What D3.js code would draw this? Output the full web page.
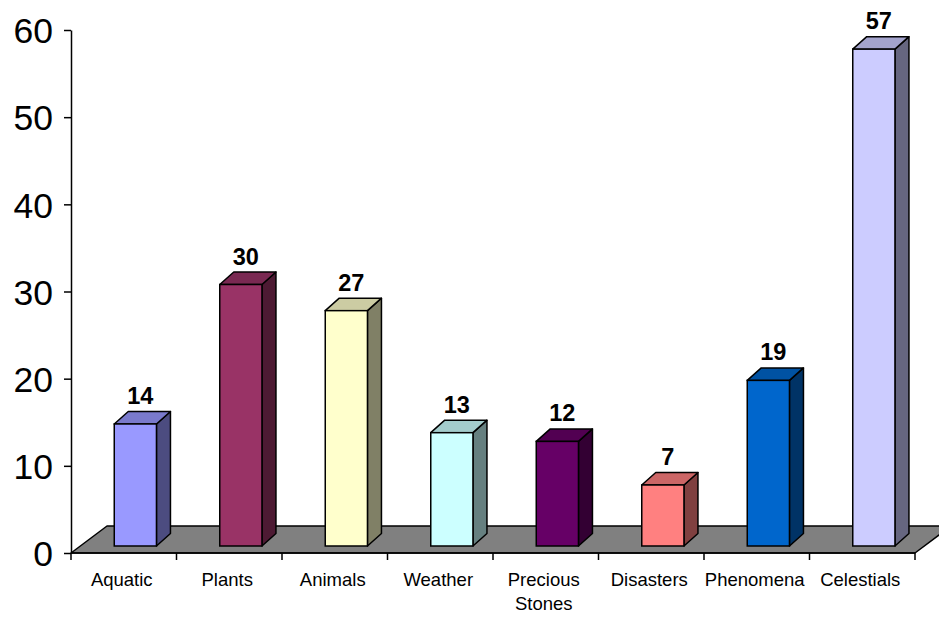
<!DOCTYPE html>
<html>
<head>
<meta charset="utf-8">
<script src="https://cdn.jsdelivr.net/npm/d3@7/dist/d3.min.js"></script>
<style>
  html, body { margin: 0; padding: 0; background: #fff; }
  svg { display: block; font-family: "Liberation Sans", Arial, sans-serif; }
</style>
</head>
<body>
<svg id="chart" width="939" height="617"></svg>
<script>
// Data
const categories = ["Aquatic", "Plants", "Animals", "Weather", "Precious Stones", "Disasters", "Phenomena", "Celestials"];
const counts = [14, 30, 27, 13, 12, 7, 19, 57];
const yTicks = [0, 10, 20, 30, 40, 50, 60];

// Face colours per bar: front, top, side
const palette = [
  ["#9999FF", "#7A7ACC", "#4C4C80"],
  ["#993366", "#7A2952", "#4D1A33"],
  ["#FFFFCC", "#CCCCA3", "#808066"],
  ["#CCFFFF", "#A3CCCC", "#668080"],
  ["#660066", "#520052", "#330033"],
  ["#FF8080", "#CC6666", "#804040"],
  ["#0066CC", "#0052A3", "#003366"],
  ["#CCCCFF", "#A3A3CC", "#666680"]
];

const svg = d3.select("#chart");
const plotLeft = 71, plotRight = 915, plotTop = 30, plotBottom = 553;

const x = d3.scaleBand().domain(categories).range([plotLeft, plotRight]).paddingInner(0).paddingOuter(0);
const y = d3.scaleLinear().domain([0, 60]).range([plotBottom, plotTop]);

// Floor depth and bar placement inside it
const floorDX = 36, floorDY = -27;
const barShiftY = -7;
const depthX = 14, depthY = -12.5;
const bw = x.bandwidth();
const barW = bw * 0.4;
const barOffset = bw * 0.41;
const pts = a => a.map(p => p.join(",")).join(" ");

// Floor
svg.append("polygon")
  .attr("points", pts([
    [plotLeft, plotBottom], [plotRight, plotBottom],
    [plotRight + floorDX, plotBottom + floorDY], [plotLeft + floorDX, plotBottom + floorDY]
  ]))
  .attr("fill", "#808080")
  .attr("stroke", "#000")
  .attr("stroke-width", 1.5)
  .attr("stroke-linejoin", "round");

// Y axis
const yAxis = d3.axisLeft(y).tickValues(yTicks).tickSize(7).tickPadding(11).tickSizeOuter(0);
const gy = svg.append("g").attr("transform", `translate(${plotLeft},0)`).call(yAxis);
gy.select(".domain").attr("stroke", "#000").attr("stroke-width", 1.5);
gy.selectAll(".tick line").attr("stroke", "#000").attr("stroke-width", 1.5);
gy.selectAll(".tick text")
  .attr("font-size", 35.5)
  .attr("font-family", "'Liberation Sans', Arial, sans-serif")
  .attr("fill", "#000")
  .attr("dy", "0.36em");

// X axis line with tick marks at band boundaries
const gx = svg.append("g");
gx.append("line")
  .attr("x1", plotLeft).attr("x2", plotRight)
  .attr("y1", plotBottom).attr("y2", plotBottom)
  .attr("stroke", "#000").attr("stroke-width", 1.5);
const bounds = categories.map(c => x(c)).concat([plotRight]);
gx.selectAll("line.tk").data(bounds).enter().append("line")
  .attr("class", "tk")
  .attr("x1", d => d).attr("x2", d => d)
  .attr("y1", plotBottom).attr("y2", plotBottom + 7)
  .attr("stroke", "#000").attr("stroke-width", 1.5);

// Category labels (wrapped on spaces for two-word names)
const labels = svg.append("g");
categories.forEach(c => {
  const words = c.split(" ");
  const cx = x(c) + bw / 2 - 2;
  const t = labels.append("text")
    .attr("x", cx)
    .attr("y", 586)
    .attr("text-anchor", "middle")
    .attr("font-size", 18.5)
    .attr("fill", "#000");
  words.forEach((w, i) => {
    t.append("tspan").attr("x", cx).attr("dy", i === 0 ? 0 : 24).text(w);
  });
});

// Bars as 3D boxes
const bars = svg.append("g");
categories.forEach((c, i) => {
  const v = counts[i];
  const x0 = x(c) + barOffset;
  const x1 = x0 + barW;
  const yb = y(0) + barShiftY;
  const yt = y(v) + barShiftY;
  const [front, topC, side] = palette[i];
  const g = bars.append("g");
  // side face
  g.append("polygon")
    .attr("points", pts([[x1, yb], [x1 + depthX, yb + depthY], [x1 + depthX, yt + depthY], [x1, yt]]))
    .attr("fill", side).attr("stroke", "#000").attr("stroke-width", 1.5).attr("stroke-linejoin", "round");
  // top face
  g.append("polygon")
    .attr("points", pts([[x0, yt], [x1, yt], [x1 + depthX, yt + depthY], [x0 + depthX, yt + depthY]]))
    .attr("fill", topC).attr("stroke", "#000").attr("stroke-width", 1.5).attr("stroke-linejoin", "round");
  // front face
  g.append("rect")
    .attr("x", x0).attr("y", yt)
    .attr("width", barW).attr("height", yb - yt)
    .attr("fill", front).attr("stroke", "#000").attr("stroke-width", 1.5);
  // value label
  g.append("text")
    .attr("x", x0 + barW / 2 + 5)
    .attr("y", yt - 20)
    .attr("text-anchor", "middle")
    .attr("font-size", 23.5)
    .attr("font-weight", "bold")
    .attr("fill", "#000")
    .text(v);
});
</script>
</body>
</html>
